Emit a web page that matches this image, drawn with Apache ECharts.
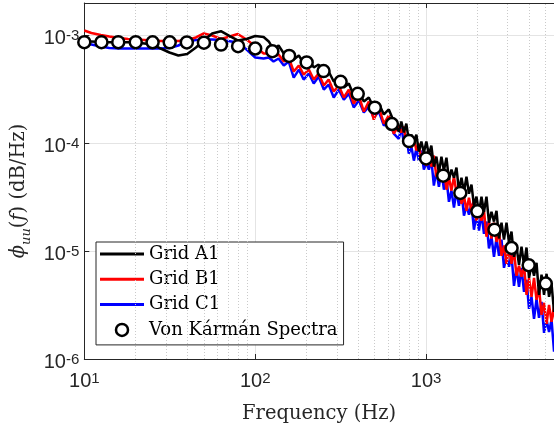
<!DOCTYPE html>
<html><head><meta charset="utf-8">
<script src="https://cdn.jsdelivr.net/npm/echarts@6/dist/echarts.min.js"></script>
<style>html,body{margin:0;padding:0;background:#fff}#c{width:554px;height:432px}</style>
</head><body><div id="c"></div>
<script>
// Frequency grid (Hz)
const freqLow = [10, 11, 12.5, 14, 16, 18, 20, 22.5, 25, 28, 31.5, 35.5, 40, 45, 50, 56, 63, 71, 79, 89, 100, 112];
const freqMid = [120,128,137,147,157,168,180,192,206,220,235,252,269,288,308,330,353,377,404,432,462,494,529,566,605,647];
const freqHigh = [692,716,741,766,792,820,848,877,907,938,970,1003,1038,1073,1110,1148,1188,1229,1271,1315,
  1360,1407,1455,1505,1556,1610,1665,1722,1781,1842,1905,1970,2038,2108,2180,2255,2332,2412,2495,2581,
  2669,2761,2855,2953,3054,3159,3267,3379,3495,3615,3739,3867,4000,4137,4279,4426,4577,4734,4897,5065,
  5238,5418,5604,5796,5995];

// Grid A1 (black)
const gridA1Low = [8.85e-4, 8.80e-4, 8.70e-4, 8.67e-4, 8.67e-4, 8.67e-4, 8.61e-4, 8.43e-4, 8.25e-4, 7.57e-4, 6.95e-4,
  6.52e-4, 6.73e-4, 7.74e-4, 8.99e-4, 1.044e-3, 1.096e-3, 9.85e-4, 8.99e-4, 9.28e-4, 9.89e-4, 9.68e-4];
const gridA1Mid = [8.80e-4, 7.41e-4, 8.07e-4, 6.81e-4, 7.10e-4, 5.99e-4, 6.52e-4, 5.50e-4, 5.99e-4, 5.05e-4,
  5.38e-4, 4.34e-4, 4.63e-4, 3.74e-4, 4.07e-4, 3.29e-4, 3.58e-4, 2.77e-4, 3.02e-4, 2.44e-4,
  2.66e-4, 2.15e-4, 2.34e-4, 1.85e-4, 2.06e-4, 1.59e-4];
const gridA1High = [1.28e-4, 1.59e-4, 1.26e-4, 1.52e-4, 1.06e-4, 1.20e-4, 1.04e-4, 1.20e-4, 8.38e-5, 1.04e-4,
  8.20e-5, 1.04e-4, 7.85e-5, 9.52e-5, 6.08e-5, 7.52e-5, 5.35e-5, 7.52e-5, 5.58e-5, 7.36e-5,
  4.60e-5, 5.70e-5, 4.80e-5, 5.95e-5, 3.64e-5, 4.80e-5, 3.56e-5, 4.91e-5, 3.41e-5, 4.14e-5,
  2.64e-5, 3.20e-5, 2.27e-5, 3.20e-5, 2.32e-5, 3.20e-5, 1.84e-5, 2.32e-5, 1.88e-5, 2.37e-5,
  1.31e-5, 1.84e-5, 1.28e-5, 1.84e-5, 1.20e-5, 1.52e-5, 8.87e-6, 1.10e-5, 7.48e-6, 1.10e-5,
  7.48e-6, 1.08e-5, 5.66e-6, 7.48e-6, 5.91e-6, 7.80e-6, 3.94e-6, 6.04e-6, 3.94e-6, 6.17e-6,
  3.77e-6, 4.98e-6, 2.74e-6, 3.61e-6, 2.31e-6];

// Grid B1 (red)
const gridB1Low = [1.113e-3, 1.055e-3, 1.011e-3, 9.79e-4, 9.48e-4, 9.28e-4, 9.18e-4, 9.08e-4, 8.99e-4, 8.89e-4, 8.89e-4,
  8.89e-4, 9.08e-4, 9.58e-4, 1.044e-3, 1.0e-3, 9.28e-4, 9.79e-4, 1.033e-3, 9.18e-4, 7.90e-4, 6.81e-4];
const gridB1Mid = [6.81e-4, 6.38e-4, 6.66e-4, 5.74e-4, 6.25e-4, 4.63e-4, 5.27e-4, 4.34e-4, 4.83e-4, 3.90e-4,
  4.44e-4, 3.43e-4, 3.90e-4, 3.02e-4, 3.43e-4, 2.66e-4, 3.15e-4, 2.34e-4, 2.77e-4, 1.97e-4,
  2.44e-4, 1.66e-4, 2.15e-4, 1.52e-4, 1.81e-4, 1.23e-4];
const gridB1High = [1.46e-4, 1.26e-4, 1.43e-4, 9.73e-5, 1.18e-4, 9.12e-5, 1.13e-4, 8.56e-5, 9.94e-5, 7.06e-5,
  8.02e-5, 6.21e-5, 7.85e-5, 6.08e-5, 7.69e-5, 4.91e-5, 5.82e-5, 4.91e-5, 5.82e-5, 3.72e-5,
  4.80e-5, 3.64e-5, 4.91e-5, 3.48e-5, 4.22e-5, 2.75e-5, 3.27e-5, 2.37e-5, 3.13e-5, 2.37e-5,
  3.00e-5, 1.92e-5, 2.27e-5, 1.92e-5, 2.37e-5, 1.36e-5, 1.88e-5, 1.31e-5, 1.84e-5, 1.22e-5,
  1.52e-5, 9.06e-6, 1.13e-5, 7.64e-6, 1.08e-5, 7.64e-6, 1.01e-5, 5.91e-6, 7.32e-6, 5.79e-6,
  7.48e-6, 3.94e-6, 5.66e-6, 3.77e-6, 5.66e-6, 3.54e-6, 4.57e-6, 2.57e-6, 3.32e-6, 2.12e-6,
  3.18e-6, 2.21e-6, 3.11e-6, 1.67e-6, 2.16e-6];

// Grid C1 (blue)
const gridC1Low = [8.52e-4, 8.25e-4, 7.90e-4, 7.65e-4, 7.57e-4, 7.57e-4, 7.57e-4, 7.57e-4, 7.57e-4, 7.57e-4, 7.65e-4,
  8.07e-4, 8.80e-4, 9.08e-4, 9.18e-4, 9.18e-4, 9.08e-4, 8.85e-4, 8.61e-4, 7.41e-4, 6.25e-4, 6.12e-4];
const gridC1Mid = [6.25e-4, 5.74e-4, 6.12e-4, 5.27e-4, 5.74e-4, 4.07e-4, 4.83e-4, 3.90e-4, 4.44e-4, 3.58e-4,
  4.16e-4, 3.15e-4, 3.51e-4, 2.66e-4, 3.15e-4, 2.54e-4, 2.89e-4, 2.15e-4, 2.49e-4, 1.93e-4,
  2.19e-4, 1.73e-4, 1.97e-4, 1.46e-4, 1.66e-4, 1.23e-4];
const gridC1High = [1.10e-4, 1.40e-4, 1.015e-4, 1.18e-4, 8.02e-5, 9.32e-5, 6.91e-5, 8.93e-5, 6.91e-5, 8.56e-5,
  5.70e-5, 6.62e-5, 5.70e-5, 7.06e-5, 4.05e-5, 5.58e-5, 3.96e-5, 5.58e-5, 3.72e-5, 4.70e-5,
  2.87e-5, 3.64e-5, 2.53e-5, 3.64e-5, 2.64e-5, 3.56e-5, 2.13e-5, 2.64e-5, 2.18e-5, 2.75e-5,
  1.58e-5, 2.18e-5, 1.55e-5, 2.27e-5, 1.45e-5, 1.88e-5, 1.06e-5, 1.36e-5, 8.87e-6, 1.33e-5,
  9.06e-6, 1.28e-5, 7.01e-6, 8.87e-6, 7.16e-6, 9.26e-6, 4.77e-6, 7.01e-6, 4.67e-6, 7.01e-6,
  4.20e-6, 5.42e-6, 2.92e-6, 3.77e-6, 2.36e-6, 3.61e-6, 2.41e-6, 3.39e-6, 1.75e-6, 2.31e-6,
  1.78e-6, 2.31e-6, 1.17e-6, 1.71e-6, 1.12e-6];

// Von Karman spectrum
const vkFreq = [10, 12.6, 15.8, 20, 25.1, 31.6, 39.8, 50.1, 63.1, 79.4, 100, 126, 158, 200, 251, 316, 398, 501,
  631, 794, 1000, 1259, 1585, 1995, 2512, 3162, 3981, 5012];
const vkValues = [8.67e-4, 8.67e-4, 8.67e-4, 8.67e-4, 8.65e-4, 8.64e-4, 8.62e-4, 8.58e-4, 8.24e-4, 7.96e-4, 7.57e-4,
  7.14e-4, 6.46e-4, 5.62e-4, 4.68e-4, 3.72e-4, 2.88e-4, 2.14e-4, 1.51e-4, 1.05e-4, 7.24e-5, 5.01e-5,
  3.47e-5, 2.34e-5, 1.58e-5, 1.07e-5, 7.41e-6, 5.01e-6];

// Minor gridline positions
const minorX = [20,30,40,50,60,70,80,90,200,300,400,500,600,700,800,900,2000,3000,4000,5000];
const minorY = [2e-6,3e-6,4e-6,5e-6,6e-6,7e-6,8e-6,9e-6,2e-5,3e-5,4e-5,5e-5,6e-5,7e-5,8e-5,9e-5,
  2e-4,3e-4,4e-4,5e-4,6e-4,7e-4,8e-4,9e-4];

const legendNames = ['Grid A1', 'Grid B1', 'Grid C1', 'Von Kármán Spectra'];

const freq = freqLow.concat(freqMid, freqHigh);
const pairs = (f, v) => f.map((x, i) => [x, v[i]]);
const a1 = pairs(freq, gridA1Low.concat(gridA1Mid, gridA1High));
const b1 = pairs(freq, gridB1Low.concat(gridB1Mid, gridB1High));
const c1 = pairs(freq, gridC1Low.concat(gridC1Mid, gridC1High));
const vk = pairs(vkFreq, vkValues);

const AX = '#262626';
const SANS = '"Liberation Sans", Arial, Helvetica, sans-serif';
const SERIF = '"DejaVu Serif", serif';
const expLabel = function (v) {
  const l = Math.log10(v);
  const e = Math.round(l);
  if (Math.abs(l - e) > 1e-6) return '';
  return '{b|10}{s|' + e + '}';
};
const labRich = {
  b: { fontFamily: SANS, fontSize: 20, color: AX, verticalAlign: 'bottom', lineHeight: 20 },
  s: { fontFamily: SANS, fontSize: 15, color: AX, verticalAlign: 'top', lineHeight: 15, padding: [0, 0, 13, 0] }
};
const LINE_ICON = 'path://M0,0 L44,0 L44,3 L0,3 Z';

const chart = echarts.init(document.getElementById('c'), null, { renderer: 'canvas' });
chart.setOption({
  animation: false,
  backgroundColor: '#fff',
  textStyle: { fontFamily: SANS },
  grid: { left: 84.3, right: 0, top: 3, bottom: 73 },
  xAxis: [{
    type: 'log', logBase: 10, min: 10, max: 5600,
    axisLine: { show: true, lineStyle: { color: AX, width: 1 } },
    axisTick: { show: true, inside: true, length: 5, lineStyle: { color: AX } },
    axisLabel: { formatter: expLabel, margin: 12, rich: labRich, showMaxLabel: false, fontFamily: SANS },
    splitLine: { show: true, lineStyle: { color: '#e4e4e4', width: 1 } },
    name: 'Frequency (Hz)', nameLocation: 'middle', nameGap: 42,
    nameTextStyle: { fontFamily: SERIF, fontSize: 19.5, color: AX }
  }, {
    type: 'log', logBase: 10, min: 10, max: 5600, position: 'top',
    axisLine: { show: true, onZero: false, lineStyle: { color: AX, width: 1 } },
    axisTick: { show: true, inside: true, length: 5, lineStyle: { color: AX } },
    axisLabel: { show: false }, splitLine: { show: false }
  }],
  yAxis: [{
    type: 'log', logBase: 10, min: 1e-6, max: 2e-3,
    axisLine: { show: true, lineStyle: { color: AX, width: 1 } },
    axisTick: { show: true, inside: true, length: 5, lineStyle: { color: AX } },
    axisLabel: { formatter: expLabel, margin: 5, rich: labRich, showMaxLabel: false, fontFamily: SANS, padding: [6, 0, 0, 0] },
    splitLine: { show: true, lineStyle: { color: '#e4e4e4', width: 1 } },
    name: '{i|ϕ}{s|uu}{n|(}{i|f}{n|) (dB/Hz)}', nameLocation: 'middle', nameGap: 47, nameRotate: 90,
    nameTextStyle: {
      padding: [0, 20, 0, 0],
      rich: {
        n: { fontFamily: SERIF, fontSize: 19.5, color: AX, lineHeight: 28 },
        i: { fontFamily: SERIF, fontStyle: 'italic', fontSize: 19.5, color: AX, lineHeight: 28 },
        s: { fontFamily: SERIF, fontStyle: 'italic', fontSize: 13, color: AX, lineHeight: 20, verticalAlign: 'bottom' }
      }
    }
  }],
  legend: {
    orient: 'vertical', left: 96, top: 242,
    data: [
      { name: legendNames[0], icon: LINE_ICON }, { name: legendNames[1], icon: LINE_ICON }, { name: legendNames[2], icon: LINE_ICON },
      { name: legendNames[3], icon: 'circle', itemStyle: { color: '#fff', borderColor: '#000', borderWidth: 2.5 } }
    ],
    itemWidth: 44, itemHeight: 12, itemGap: 5.3,
    padding: [2, 6, 5, 4],
    borderColor: AX, borderWidth: 1, backgroundColor: '#fff',
    textStyle: { fontFamily: SERIF, fontSize: 18, color: '#000', lineHeight: 20 }
  },
  series: [
    {
      type: 'line', data: [], silent: true, z: 1,
      markLine: {
        silent: true, symbol: ['none', 'none'], label: { show: false }, animation: false,
        lineStyle: { type: [1, 2], color: '#cacaca', width: 1 },
        data: minorX.map(v => ({ xAxis: v })).concat(minorY.map(v => ({ yAxis: v })))
      }
    },
    { name: legendNames[2], type: 'line', data: c1, symbol: 'none', z: 3,
      lineStyle: { color: '#0000ff', width: 2.5 }, itemStyle: { color: '#0000ff' } },
    { name: legendNames[1], type: 'line', data: b1, symbol: 'none', z: 4,
      lineStyle: { color: '#ff0000', width: 2.5 }, itemStyle: { color: '#ff0000' } },
    { name: legendNames[0], type: 'line', data: a1, symbol: 'none', z: 5,
      lineStyle: { color: '#000000', width: 2.5 }, itemStyle: { color: '#000000' } },
    { name: legendNames[3], type: 'scatter', data: vk, symbol: 'circle', symbolSize: 12, z: 6,
      itemStyle: { color: '#ffffff', borderColor: '#000000', borderWidth: 2.5, opacity: 1 } }
  ]
});
</script>
</body></html>
